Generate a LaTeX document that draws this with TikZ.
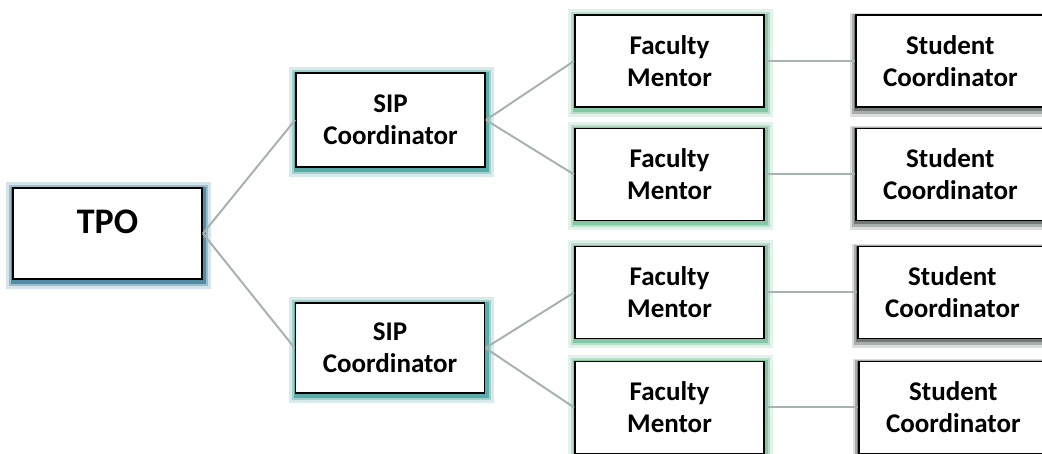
\documentclass[tikz,border=0pt]{standalone}
\usepackage{fontspec}
\setmainfont{Carlito}
\usepackage{tikz}
\usetikzlibrary{positioning}
\definecolor{tpoglow}{HTML}{2F7896}
\definecolor{sipglow}{HTML}{3A9C98}
\definecolor{fmglow}{HTML}{6CBC94}
\definecolor{scglow}{HTML}{4E5456}
\definecolor{linkgray}{HTML}{A8B2B0}

\begin{document}
\begin{tikzpicture}[
    x=1pt,
    y=1pt,
    thick,
    box/.style={draw=black,line width=0.9pt,fill=white,inner sep=0pt,
      minimum width=94.5pt,minimum height=46pt,align=center,
      font=\bfseries\fontsize{13.5}{16}\selectfont},
    glow/.style={
      preaction={draw=#1,opacity=.2,line width=8pt,transform canvas={xshift=.6pt,yshift=-.8pt}},
      preaction={draw=#1,opacity=.35,line width=5pt,transform canvas={xshift=.6pt,yshift=-.8pt}},
      preaction={draw=#1,opacity=.7,line width=3pt,transform canvas={xshift=.6pt,yshift=-.8pt}}},
    drop/.style={
      preaction={draw=#1,opacity=.2,line width=6pt,transform canvas={yshift=-2pt}},
      preaction={draw=#1,opacity=.35,line width=4pt,transform canvas={yshift=-1.5pt}},
      preaction={draw=#1,opacity=.6,line width=2pt,transform canvas={yshift=-1pt}}},
    link/.style={draw=linkgray,line width=1pt}
    ]
    \path[use as bounding box,clip] (0,0) rectangle (521,227);

    \node[box,glow=tpoglow,minimum height=45.5pt,
      label={[font=\bfseries\fontsize{18}{21}\selectfont,yshift=6pt]center:TPO}]
      (tpo) at (53.75,110.25) {};
    \node[box,glow=sipglow,minimum height=47pt] (sip1) at (195.25,167) {SIP\\Coordinator};
    \node[box,glow=sipglow,minimum height=45pt] (sip2) at (195,53) {SIP\\Coordinator};

    \node[box,glow=fmglow] (fm1) at (334.75,196.5) {Faculty\\Mentor};
    \node[box,glow=fmglow] (fm2) at (334.75,139.75) {Faculty\\Mentor};
    \node[box,glow=fmglow] (fm3) at (334.75,80.75) {Faculty\\Mentor};
    \node[box,glow=fmglow] (fm4) at (334.75,23.25) {Faculty\\Mentor};

    \node[box,drop=scglow] (sc1) [right=45pt of fm1] {Student\\Coordinator};
    \node[box,drop=scglow] (sc2) [right=45pt of fm2] {Student\\Coordinator};
    \node[box,drop=scglow] (sc3) [right=46pt of fm3] {Student\\Coordinator};
    \node[box,drop=scglow] (sc4) [right=46.5pt of fm4] {Student\\Coordinator};

    \path[link]
      (tpo.east) edge (sip1.west)
      (tpo.east) edge (sip2.west)
      (sip1.east) edge (fm1.west)
      (sip1.east) edge (fm2.west)
      (sip2.east) edge (fm3.west)
      (sip2.east) edge (fm4.west)
      (fm1) edge (sc1)
      (fm2) edge (sc2)
      (fm3) edge (sc3)
      (fm4) edge (sc4);
  \end{tikzpicture}
\end{document}
